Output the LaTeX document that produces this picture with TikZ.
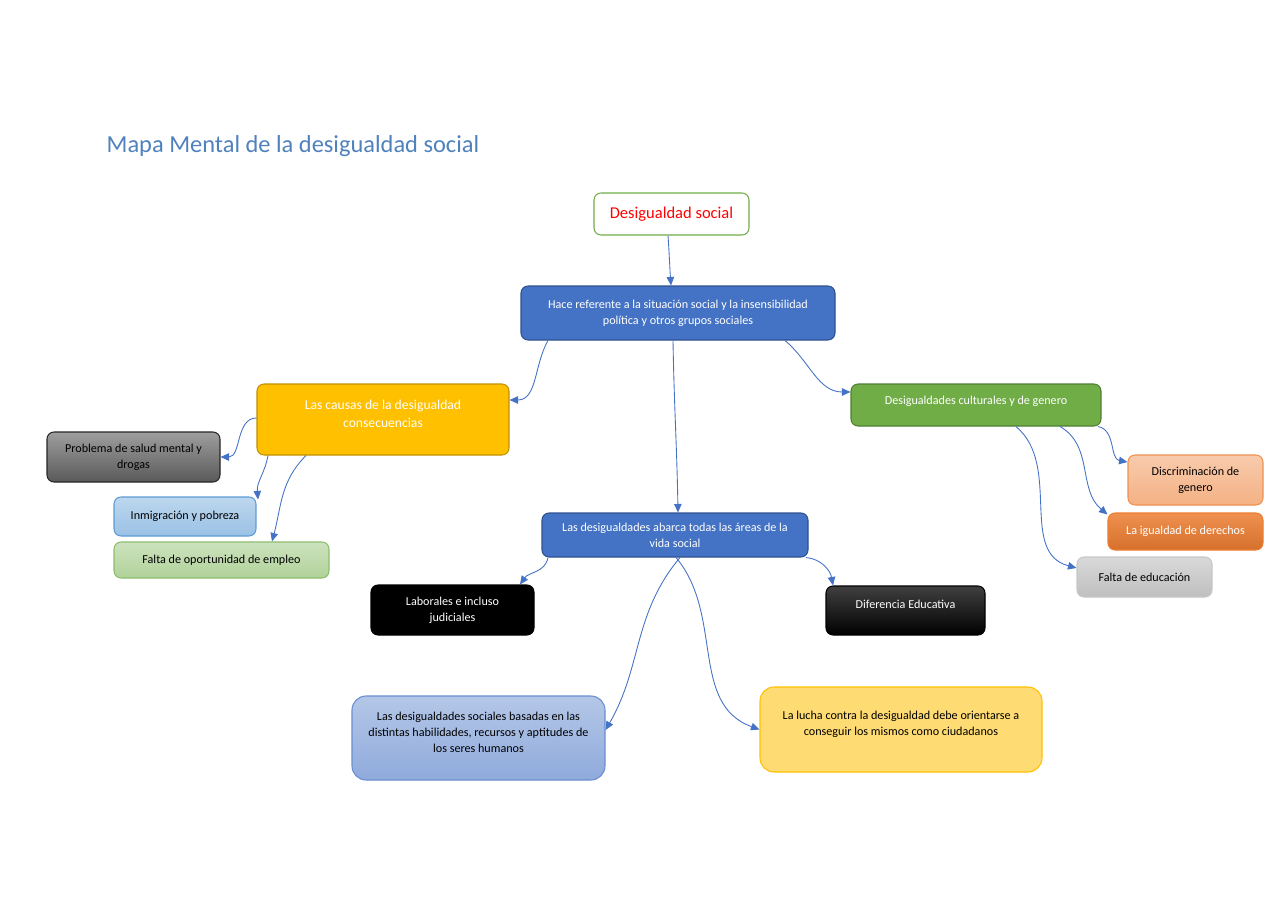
\documentclass[tikz,border=0pt]{standalone}
\usepackage{fontspec}
\setmainfont{Carlito}
\usepackage{tikz}
\usetikzlibrary{positioning,arrows.meta,calc}
\usepackage{xcolor}
\definecolor{mapblue}{HTML}{4472C4}
\definecolor{mapbluedark}{HTML}{2F528F}
\definecolor{mapsky}{HTML}{5B9BD5}
\definecolor{mapyellow}{HTML}{FFC000}
\definecolor{mapyellowdark}{HTML}{BF9000}
\definecolor{mapgreen}{HTML}{70AD47}
\definecolor{mapgreendark}{HTML}{507E32}
\definecolor{maporange}{HTML}{ED7D31}
\definecolor{maptitle}{HTML}{4F81BD}
\definecolor{mapred}{HTML}{FF0000}

\begin{document}
\begin{tikzpicture}[
    box/.style={draw=#1, rounded corners=4pt, line width=0.6pt, align=center, inner sep=2pt,
                font=\fontsize{6.9}{9}\selectfont},
    shade/.style 2 args={top color=#1, bottom color=#2},
    arrow/.style={-{Triangle[length=0.17cm,width=0.15cm]}, color=mapblue, line width=0.5pt},
]
\useasboundingbox (0,0) rectangle (25.6,-18.1);

% === Title ===
\node[font=\fontsize{13.9}{16}\selectfont, text=maptitle] (title) at (5.86,-2.92) {Mapa Mental de la desigualdad social};

% === Root and first level ===
\node[box=mapgreen, fill=white, minimum width=3.1cm, minimum height=0.84cm,
      font=\fontsize{9.4}{11}\selectfont, text=mapred] (root) at (13.43,-4.28) {Desigualdad social};
\node[box=mapbluedark, fill=mapblue, text=white, minimum width=6.28cm, minimum height=1.08cm] (hace) at (13.56,-6.26)
      {Hace referente a la situación social y la insensibilidad\\política y otros grupos sociales};
\draw[arrow] ([xshift=-0.07cm]root.south) to[out=-86,in=94] ([xshift=-0.14cm]hace.north);

% === Left branch: causes ===
\node[box=mapyellowdark, fill=mapyellow, text=white, minimum width=5.04cm, minimum height=1.42cm,
      font=\fontsize{7.75}{10.2}\selectfont] (causas) at (7.66,-8.39)
      {Las causas de la desigualdad\\consecuencias\\[-3.4pt]};
\node[box=black!85, shade={black!38}{black!65}, minimum width=3.46cm, minimum height=1.0cm] (salud) at (2.67,-9.14)
      {Problema de salud mental y\\drogas};
\node[box=mapsky, shade={mapsky!40}{mapsky!62}, minimum width=2.84cm, minimum height=0.78cm] (inmig) at (3.70,-10.33)
      {Inmigración y pobreza};
\node[box=mapgreen!80, shade={mapgreen!35}{mapgreen!55}, minimum width=4.30cm, minimum height=0.72cm] (empleo) at (4.43,-11.20)
      {Falta de oportunidad de empleo};
\draw[arrow] ([xshift=-2.6cm]hace.south) to[out=-120,in=0] ([yshift=0.39cm]causas.east);
\draw[arrow] ([yshift=0.03cm]causas.west) to[out=180,in=0] (salud.east);
\draw[arrow] ([xshift=-2.3cm]causas.south) to[out=-100,in=95] ([xshift=0.03cm,yshift=-0.06cm]inmig.north east);
\draw[arrow] ([xshift=-1.54cm]causas.south) to[out=-135,in=75] ([xshift=1.01cm]empleo.north);

% === Right branch: culture and gender ===
\node[box=mapgreendark, fill=mapgreen, text=white, minimum width=5.0cm, minimum height=0.84cm] (cult) at (19.52,-8.10)
      {Desigualdades culturales y de genero\\[-3.3pt]};
\node[box=maporange!85, shade={maporange!40}{maporange!60}, minimum width=2.70cm, minimum height=1.0cm] (discrim) at (23.91,-9.60)
      {Discriminación de\\genero};
\node[box=maporange, shade={maporange!85}{maporange!90!black}, text=white, minimum width=3.10cm, minimum height=0.74cm] (igualdad) at (23.71,-10.63)
      {La igualdad de derechos};
\node[box=black!22, shade={black!15}{black!25}, minimum width=2.70cm, minimum height=0.80cm] (educacion) at (22.89,-11.54)
      {Falta de educación};
\draw[arrow] ([xshift=2.14cm]hace.south) to[out=-40,in=180] ([yshift=0.26cm]cult.west);
\draw[arrow] ([xshift=2.44cm]cult.south) to[out=-10,in=170] ([yshift=0.36cm]discrim.west);
\draw[arrow] ([xshift=1.68cm]cult.south) to[out=-30,in=140] ([yshift=0.34cm]igualdad.west);
\draw[arrow] ([xshift=0.8cm]cult.south) to[out=-40,in=165] ([yshift=0.18cm]educacion.west);

% === Centre branch: all areas of social life ===
\node[box=mapbluedark, fill=mapblue, text=white, minimum width=5.32cm, minimum height=0.88cm] (abarca) at (13.50,-10.70)
      {Las desigualdades abarca todas las áreas de la\\vida social};
\node[box=black, fill=black, text=white, minimum width=3.26cm, minimum height=1.0cm] (laborales) at (9.05,-12.20)
      {Laborales e incluso\\judiciales};
\node[box=black, shade={black!75}{black}, text=white, minimum width=3.18cm, minimum height=0.98cm] (diferencia) at (18.11,-12.21)
      {Diferencia Educativa\\[-1.6pt]};
\node[box=mapblue!80, shade={mapblue!40}{mapblue!60}, rounded corners=8pt, minimum width=5.06cm, minimum height=1.68cm] (sociales) at (9.57,-14.76)
      {Las desigualdades sociales basadas en las\\distintas habilidades, recursos y aptitudes de\\los seres humanos\\[-2.2pt]};
\node[box=mapyellow, fill=mapyellow!55, rounded corners=8pt, minimum width=5.64cm, minimum height=1.70cm] (lucha) at (18.02,-14.59)
      {La lucha contra la desigualdad debe orientarse a\\conseguir los mismos como ciudadanos\\[-2.2pt]};
\draw[arrow] ([xshift=-0.1cm]hace.south) to[out=-89,in=91] ([xshift=0.06cm]abarca.north);
\draw[arrow] ([xshift=-2.54cm]abarca.south) to[out=-100,in=55] ([xshift=1.35cm]laborales.north);
\draw[arrow] ([xshift=-0.05cm]abarca.south east) to[out=-5,in=100] ([xshift=-1.45cm]diferencia.north);
\draw[arrow] ([xshift=0.1cm]abarca.south) to[out=-130,in=60] ([yshift=0.16cm]sociales.east);
\draw[arrow] ([xshift=0.02cm]abarca.south) to[out=-50,in=160] (lucha.west);

\end{tikzpicture}
\end{document}
